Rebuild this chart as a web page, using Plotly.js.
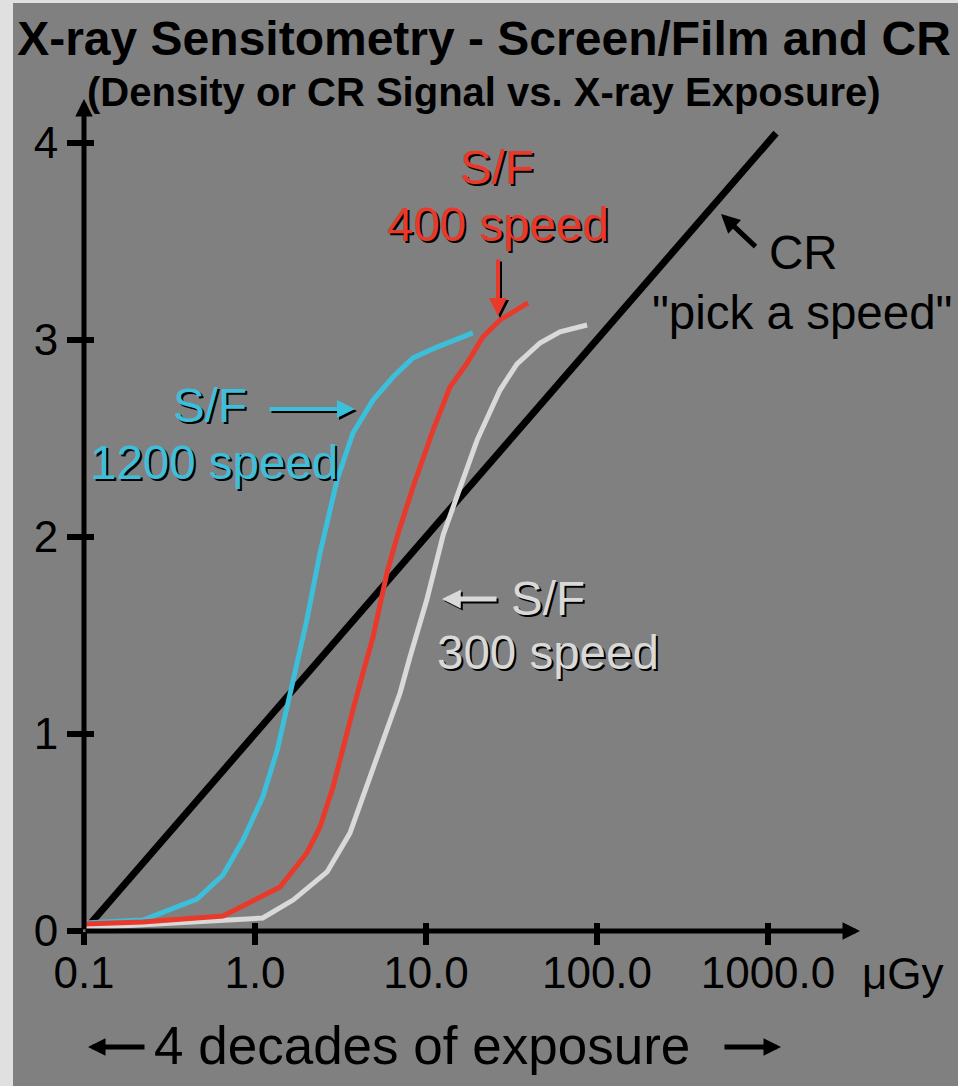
<!DOCTYPE html>
<html>
<head>
<meta charset="utf-8">
<script src="https://cdn.plot.ly/plotly-3.0.1.min.js"></script>
<style>
  html, body { margin: 0; padding: 0; background: #e0e0e0; width: 958px; height: 1086px; overflow: hidden; }
  #chart { position: absolute; left: 13px; top: 3px; width: 945px; height: 1083px; }
</style>
</head>
<body>
<div id="chart"></div>
<script>
// ---- data ----
const crExposure = [0.1, 1114];
const crSignal = [0, 4.05];

const sf1200Exposure = [0.1, 0.221, 0.458, 0.650, 0.851, 1.11, 1.35, 1.67, 2.01, 2.40, 3.02, 3.74, 4.90, 6.41, 8.40, 11.6, 18.8];
const sf1200Density  = [0.04, 0.056, 0.162, 0.284, 0.462, 0.680, 0.919, 1.274, 1.579, 1.919, 2.289, 2.528, 2.695, 2.812, 2.909, 2.964, 3.036];

const sf400Exposure = [0.1, 0.221, 0.650, 1.40, 2.01, 2.40, 2.86, 3.27, 3.74, 4.28, 4.90, 5.91, 6.77, 8.40, 11.0, 13.8, 17.4, 21.5, 27.1, 39.5];
const sf400Density  = [0.036, 0.046, 0.076, 0.223, 0.396, 0.528, 0.731, 0.934, 1.122, 1.310, 1.492, 1.817, 2.0, 2.254, 2.543, 2.761, 2.883, 3.015, 3.102, 3.188];

const sf300Exposure = [0.1, 1.11, 1.67, 2.64, 3.59, 4.71, 5.91, 7.05, 8.06, 9.23, 10.1, 12.6, 15.8, 19.9, 27.1, 34.0, 46.4, 60.8, 87.5];
const sf300Density  = [0.015, 0.066, 0.157, 0.30, 0.497, 0.782, 1.005, 1.208, 1.391, 1.563, 1.680, 2.010, 2.254, 2.492, 2.746, 2.878, 2.985, 3.041, 3.076];

const exposureTicks = [0.1, 1, 10, 100, 1000];
const exposureTickLabels = ['0.1', '1.0', '10.0', '100.0', '1000.0'];
const signalTicks = [0, 1, 2, 3, 4];
const signalTickLabels = ['0', '1', '2', '3', '4'];

// ---- styling / layout ----
const FONT = 'Liberation Sans, Arial, Helvetica, sans-serif';
const CYAN = '#3cbfdb', RED = '#e8392b', LIGHT = '#d9d9d9', BLACK = '#000000';
const X_RANGE = [-1, 3.5556];
const Y_RANGE = [0, 4.2386];

// page-pixel -> paper helpers (plot area: x 84..863, y 96..931 on the page)
const PL = 84, PR = 863, PT = 96, PB = 931;
const px = v => (v - PL) / (PR - PL);
const py = v => (PB - v) / (PB - PT);

function label(text, x, y, color, size) {
  return { xref: 'paper', yref: 'paper', x: px(x), y: py(y), xanchor: 'center', yanchor: 'middle',
           text: text, showarrow: false,
           font: { family: FONT, size: size, color: color } };
}
function shadowLabel(text, x, y, color, size) {
  const s = label(text, x, y, '#000', size);
  s.xshift = 2; s.yshift = -2;
  return [s, label(text, x, y, color, size)];
}
function arrow(tipX, tipY, tailX, tailY, color, width, size) {
  return { xref: 'paper', yref: 'paper', x: px(tipX), y: py(tipY), ax: tailX - tipX, ay: tailY - tipY,
           text: '', showarrow: true, arrowhead: 2, arrowsize: size, arrowwidth: width,
           arrowcolor: color, standoff: 0, startstandoff: 0 };
}
function shadowArrow(tipX, tipY, tailX, tailY, color, width, size) {
  const s = arrow(tipX, tipY, tailX, tailY, '#000', width, size);
  s.xshift = 2; s.yshift = -2;
  return [s, arrow(tipX, tipY, tailX, tailY, color, width, size)];
}

const traces = [
  { x: crExposure, y: crSignal, mode: 'lines', line: { color: BLACK, width: 7 }, name: 'CR', showlegend: false, hoverinfo: 'skip' },
  { x: sf300Exposure, y: sf300Density, mode: 'lines', line: { color: LIGHT, width: 5 }, name: 'S/F 300', showlegend: false, hoverinfo: 'skip' },
  { x: sf1200Exposure, y: sf1200Density, mode: 'lines', line: { color: CYAN, width: 5 }, name: 'S/F 1200', showlegend: false, hoverinfo: 'skip' },
  { x: sf400Exposure, y: sf400Density, mode: 'lines', line: { color: RED, width: 5 }, name: 'S/F 400', showlegend: false, hoverinfo: 'skip' },
  { x: [], y: [], xaxis: 'x2', yaxis: 'y2', mode: 'lines', showlegend: false, hoverinfo: 'skip' }
];

const LBL = 47.5;
const annotations = [
  label('<b>(Density or CR Signal vs. X-ray Exposure)</b>', 484, 92, BLACK, 40),
  // axis arrows
  arrow(84, 99, 84, 931, BLACK, 5, 0.7),
  arrow(860, 931, 84, 931, BLACK, 5, 0.7),
  label('μGy', 903, 973, BLACK, 44),
  // S/F 1200
  ...shadowLabel('S/F', 210, 405, CYAN, LBL),
  ...shadowLabel('1200 speed', 214, 463, CYAN, LBL),
  ...shadowArrow(355, 409, 268, 409, CYAN, 4, 0.9),
  // S/F 400
  ...shadowLabel('S/F', 497, 167, RED, LBL),
  ...shadowLabel('400 speed', 498, 224, RED, LBL),
  ...shadowArrow(498, 316, 498, 258, RED, 4, 0.9),
  // S/F 300
  ...shadowLabel('S/F', 548, 598, LIGHT, LBL),
  ...shadowLabel('300 speed', 548, 652, LIGHT, LBL),
  ...shadowArrow(442, 599, 498, 599, LIGHT, 5, 0.75),
  // CR
  label('CR', 803, 253, BLACK, LBL),
  label('"pick a speed"', 802, 312, BLACK, LBL),
  arrow(721, 214, 757, 248, BLACK, 5, 0.75),
  // bottom
  label('4 decades of exposure', 422, 1045, BLACK, 53),
  arrow(88, 1047, 146, 1047, BLACK, 5, 0.7),
  arrow(781, 1047, 723, 1047, BLACK, 5, 0.7)
];

const axisCommon = { showgrid: false, zeroline: false, showline: false, tickcolor: BLACK, tickwidth: 6,
                     tickfont: { family: FONT, size: 44, color: BLACK }, fixedrange: true };

const layout = {
  width: 945, height: 1083,
  paper_bgcolor: '#808080', plot_bgcolor: 'rgba(0,0,0,0)',
  margin: { l: PL - 13, r: 958 - PR, t: PT - 3, b: 1086 - PB, pad: 0 },
  showlegend: false,
  title: { text: '<b>X-ray Sensitometry - Screen/Film and CR</b>', x: 471 / 945, xanchor: 'center',
           xref: 'container', yref: 'container', y: 1 - 35 / 1083, yanchor: 'middle',
           font: { family: FONT, size: 48, color: BLACK } },
  xaxis: Object.assign({}, axisCommon, { type: 'log', range: X_RANGE, tickmode: 'array', tickvals: exposureTicks,
           ticktext: exposureTickLabels, ticks: 'outside', ticklen: 13, ticklabelstandoff: -10 }),
  yaxis: Object.assign({}, axisCommon, { range: Y_RANGE, tickmode: 'array', tickvals: signalTicks,
           ticktext: signalTickLabels, ticks: 'outside', ticklen: 16 }),
  xaxis2: Object.assign({}, axisCommon, { type: 'log', range: X_RANGE, tickmode: 'array', tickvals: exposureTicks,
           showticklabels: false, ticks: 'inside', ticklen: 8, overlaying: 'x', anchor: 'y2' }),
  yaxis2: Object.assign({}, axisCommon, { range: Y_RANGE, tickmode: 'array', tickvals: signalTicks,
           showticklabels: false, ticks: 'inside', ticklen: 10, overlaying: 'y', anchor: 'x2', side: 'left' }),
  annotations: annotations
};

Plotly.newPlot('chart', traces, layout, { staticPlot: true, displayModeBar: false });
</script>
</body>
</html>
